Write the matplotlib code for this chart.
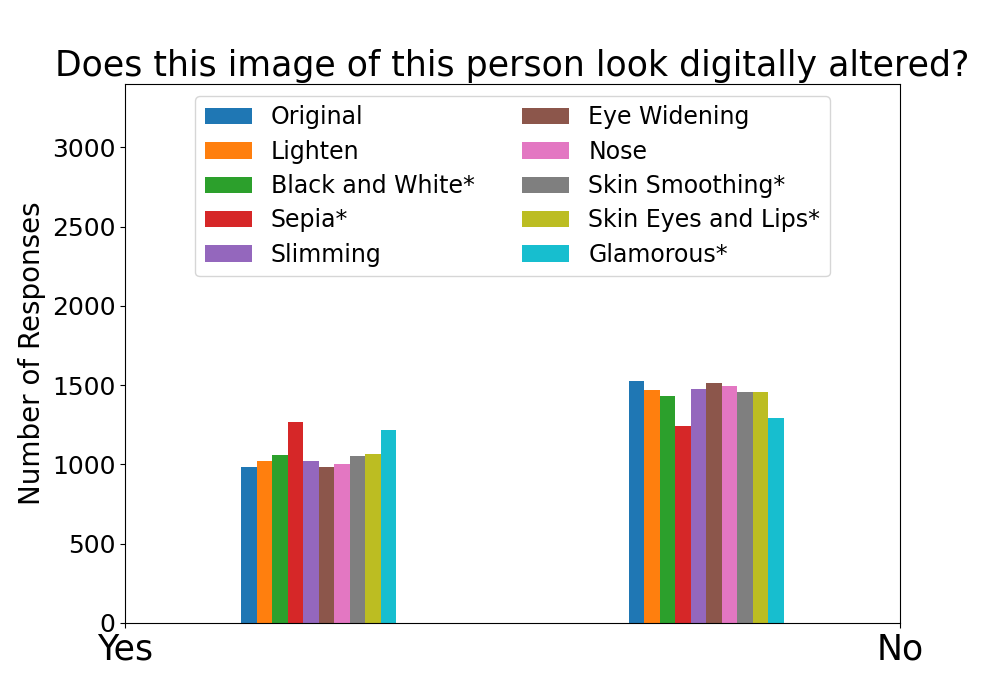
import numpy as np
import matplotlib
matplotlib.use('Agg')
import matplotlib.pyplot as plt

labels = ['Original', 'Lighten', 'Black and White*', 'Sepia*', 'Slimming',
          'Eye Widening', 'Nose', 'Skin Smoothing*', 'Skin Eyes and Lips*', 'Glamorous*']
yes_counts = [983, 1021, 1059, 1267, 1021, 983, 1002, 1052, 1065, 1216]
no_counts = [1525, 1468, 1431, 1242, 1475, 1513, 1494, 1456, 1456, 1292]
answers = ['Yes', 'No']

barWidth = 0.02
fig, ax = plt.subplots(figsize=(10, 7), dpi=100)
for i, lab in enumerate(labels):
    pos = np.array([0.15, 0.65]) + i * barWidth
    ax.bar(pos, [yes_counts[i], no_counts[i]], width=barWidth, align='edge',
           color='C%d' % i, label=lab)

ax.set_xlim(0, 1)
ax.set_ylim(0, 3400)
ax.set_xticks([0, 1])
ax.set_xticklabels(answers, fontsize=25)
ax.tick_params(axis='y', labelsize=18)
ax.set_ylabel('Number of Responses', fontsize=20)
ax.set_title('Does this image of this person look digitally altered?', fontsize=25)
ax.legend(ncol=2, loc='upper center', fontsize=17, labelspacing=0.44)

plt.savefig('out.png')
